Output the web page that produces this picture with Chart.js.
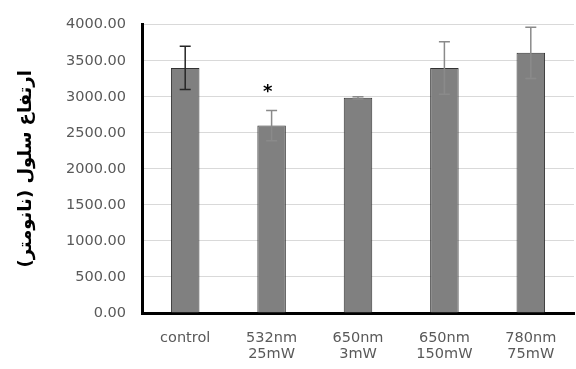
<!DOCTYPE html>
<html lang="fa">
<head>
    <meta charset="UTF-8">
    <title>Cell height</title>
    <style>
        body {
            margin: 0;
            background: #fff;
        }
        #wrap {
            width: 576px;
            height: 369px;
        }
    </style>
    <script src="https://cdn.jsdelivr.net/npm/chart.js"></script>
</head>
<body>
    <div id="wrap">
        <canvas id="chart" width="576" height="369"></canvas>
    </div>

    <script>
        // data
        const categories = [['control'], ['532nm', '25mW'], ['650nm', '3mW'], ['650nm', '150mW'], ['780nm', '75mW']];
        const heights = [3400, 2600, 2985, 3400, 3610];
        const errors = [300, 210, 15, 365, 355];
        const marks = ['', '*', '', '', ''];
        const yTicks = [0, 500, 1000, 1500, 2000, 2500, 3000, 3500, 4000];
        const yTitle = 'ارتفاع سلول (نانومتر)';

        // error bars + significance star
        const errorBars = {
            id: 'errorBars',
            afterDatasetsDraw(chart) {
                const ctx = chart.ctx;
                const meta = chart.getDatasetMeta(0);
                const y = chart.scales.y;
                ctx.save();
                meta.data.forEach((bar, i) => {
                    const top = y.getPixelForValue(heights[i] + errors[i]);
                    const bot = y.getPixelForValue(heights[i] - errors[i]);
                    ctx.strokeStyle = i === 0 ? '#262626' : '#8a8a8a';
                    ctx.lineWidth = 1.5;
                    ctx.beginPath();
                    ctx.moveTo(bar.x, top);
                    ctx.lineTo(bar.x, bot);
                    ctx.moveTo(bar.x - 5.5, top);
                    ctx.lineTo(bar.x + 5.5, top);
                    ctx.moveTo(bar.x - 5.5, bot);
                    ctx.lineTo(bar.x + 5.5, bot);
                    ctx.stroke();
                    if (marks[i]) {
                        ctx.fillStyle = '#000';
                        ctx.font = 'bold 18px "DejaVu Sans"';
                        ctx.textAlign = 'center';
                        ctx.textBaseline = 'middle';
                        ctx.fillText(marks[i], bar.x - 4, top - 18);
                    }
                });
                ctx.restore();
            }
        };

        new Chart(document.getElementById('chart'), {
            type: 'bar',
            data: {
                labels: categories,
                datasets: [{
                    data: heights,
                    backgroundColor: '#808080',
                    borderColor: '#333333',
                    borderWidth: 1,
                    barPercentage: 0.33,
                    categoryPercentage: 1
                }]
            },
            options: {
                responsive: false,
                animation: false,
                layout: {
                    padding: { top: 23, right: 2, left: 0, bottom: 0 }
                },
                plugins: {
                    legend: { display: false },
                    tooltip: { enabled: false }
                },
                scales: {
                    x: {
                        grid: { display: false, drawTicks: false },
                        border: { color: '#000', width: 3 },
                        ticks: {
                            color: '#595959',
                            padding: 17,
                            font: { family: 'DejaVu Sans', size: 14.5, lineHeight: 1.12 }
                        },
                        afterFit(scale) { scale.height = 56; }
                    },
                    y: {
                        min: 0,
                        max: 4000,
                        afterBuildTicks(scale) {
                            scale.ticks = yTicks.map(v => ({ value: v }));
                        },
                        grid: { color: '#d9d9d9', lineWidth: 1, drawTicks: false },
                        border: { color: '#000', width: 3 },
                        ticks: {
                            color: '#595959',
                            padding: 16,
                            font: { family: 'DejaVu Sans', size: 14.5 },
                            callback: v => Number(v).toFixed(2)
                        },
                        title: {
                            display: true,
                            text: yTitle,
                            color: '#000',
                            padding: { top: 16, bottom: 0 },
                            font: { family: 'DejaVu Sans', size: 18, weight: 'bold' }
                        },
                        afterFit(scale) { scale.width = 142; }
                    }
                }
            },
            plugins: [errorBars]
        });
    </script>
</body>
</html>
